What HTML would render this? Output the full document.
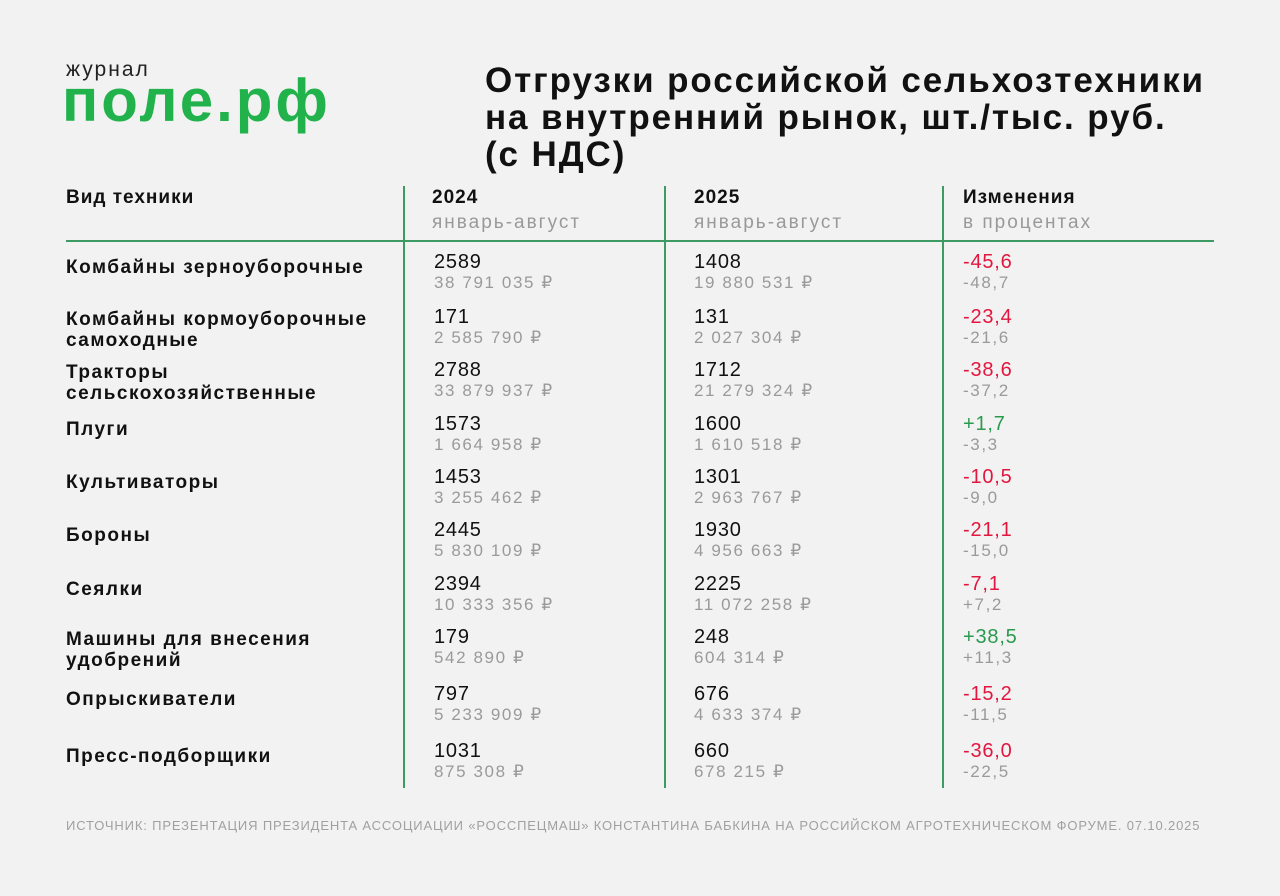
<!DOCTYPE html>
<html><head><meta charset="utf-8"><style>
body{margin:0;width:1280px;height:896px;background:#f2f2f2;font-family:"Liberation Sans","DejaVu Sans",sans-serif;position:relative;overflow:hidden;color:#111}
.a{position:absolute;white-space:nowrap}
.t{left:485px;font-size:35px;font-weight:bold;letter-spacing:1.9px;line-height:37px;top:62px;color:#111}
.h{font-size:19px;font-weight:bold;letter-spacing:1px}
.s{font-size:19px;color:#999;letter-spacing:2px}
.l{font-size:19px;font-weight:bold;line-height:21px;letter-spacing:1.5px}
.n{font-size:20px;color:#111;letter-spacing:0.8px}
.g{font-size:17px;color:#9a9a9a;letter-spacing:1.6px}
.r{color:#e2173f;font-size:20px;letter-spacing:0.8px}
.p{color:#2a9a4e;font-size:20px;letter-spacing:0.8px}
.vl{position:absolute;top:186px;height:602px;width:1.5px;background:#3c9a62}
</style></head><body>
<div class="a" style="left:66px;top:58px;font-size:21px;color:#222;letter-spacing:2px">журнал</div>
<div class="a" style="left:62px;top:66px;font-size:60px;font-weight:bold;color:#22b24c;letter-spacing:3px">поле.рф</div>
<div class="a t">Отгрузки российской сельхозтехники<br>на внутренний рынок, шт./тыс. руб.<br>(с НДС)</div>
<div class="vl" style="left:403px"></div><div class="vl" style="left:664px"></div><div class="vl" style="left:942px"></div>
<div style="position:absolute;left:66px;top:240px;width:1148px;height:1.5px;background:#3c9a62"></div>
<div class="a h" style="left:66px;top:187px">Вид техники</div>
<div class="a h" style="left:432px;top:187px">2024</div><div class="a s" style="left:432px;top:212px">январь-август</div>
<div class="a h" style="left:694px;top:187px">2025</div><div class="a s" style="left:694px;top:212px">январь-август</div>
<div class="a h" style="left:963px;top:187px">Изменения</div><div class="a s" style="left:963px;top:212px">в процентах</div>
<div id="rows"></div>
<div class="a" style="left:66px;top:818px;font-size:13px;color:#a0a0a0;letter-spacing:0.85px">ИСТОЧНИК: ПРЕЗЕНТАЦИЯ ПРЕЗИДЕНТА АССОЦИАЦИИ «РОССПЕЦМАШ» КОНСТАНТИНА БАБКИНА НА РОССИЙСКОМ АГРОТЕХНИЧЕСКОМ ФОРУМЕ. 07.10.2025</div>
<script>
var d=[
[263,"Комбайны зерноуборочные","2589","38 791 035 ₽","1408","19 880 531 ₽","-45,6","-48,7"],
[318,"Комбайны кормоуборочные<br>самоходные","171","2 585 790 ₽","131","2 027 304 ₽","-23,4","-21,6"],
[371,"Тракторы<br>сельскохозяйственные","2788","33 879 937 ₽","1712","21 279 324 ₽","-38,6","-37,2"],
[425,"Плуги","1573","1 664 958 ₽","1600","1 610 518 ₽","+1,7","-3,3"],
[478,"Культиваторы","1453","3 255 462 ₽","1301","2 963 767 ₽","-10,5","-9,0"],
[531,"Бороны","2445","5 830 109 ₽","1930","4 956 663 ₽","-21,1","-15,0"],
[585,"Сеялки","2394","10 333 356 ₽","2225","11 072 258 ₽","-7,1","+7,2"],
[638,"Машины для внесения<br>удобрений","179","542 890 ₽","248","604 314 ₽","+38,5","+11,3"],
[695,"Опрыскиватели","797","5 233 909 ₽","676","4 633 374 ₽","-15,2","-11,5"],
[752,"Пресс-подборщики","1031","875 308 ₽","660","678 215 ₽","-36,0","-22,5"]];
var h="";
d.forEach(function(r){var y=r[0];var two=r[1].indexOf("<br>")>0;
h+='<div class="a l" style="left:66px;top:'+(two?y-9:y-6)+'px">'+r[1]+'</div>';
h+='<div class="a n" style="left:434px;top:'+(y-12)+'px">'+r[2]+'</div><div class="a g" style="left:434px;top:'+(y+10)+'px">'+r[3]+'</div>';
h+='<div class="a n" style="left:694px;top:'+(y-12)+'px">'+r[4]+'</div><div class="a g" style="left:694px;top:'+(y+10)+'px">'+r[5]+'</div>';
h+='<div class="a '+(r[6][0]=="+"?"p":"r")+'" style="left:963px;top:'+(y-12)+'px">'+r[6]+'</div><div class="a g" style="left:963px;top:'+(y+10)+'px">'+r[7]+'</div>';});
document.getElementById("rows").innerHTML=h;
</script>
</body></html>
